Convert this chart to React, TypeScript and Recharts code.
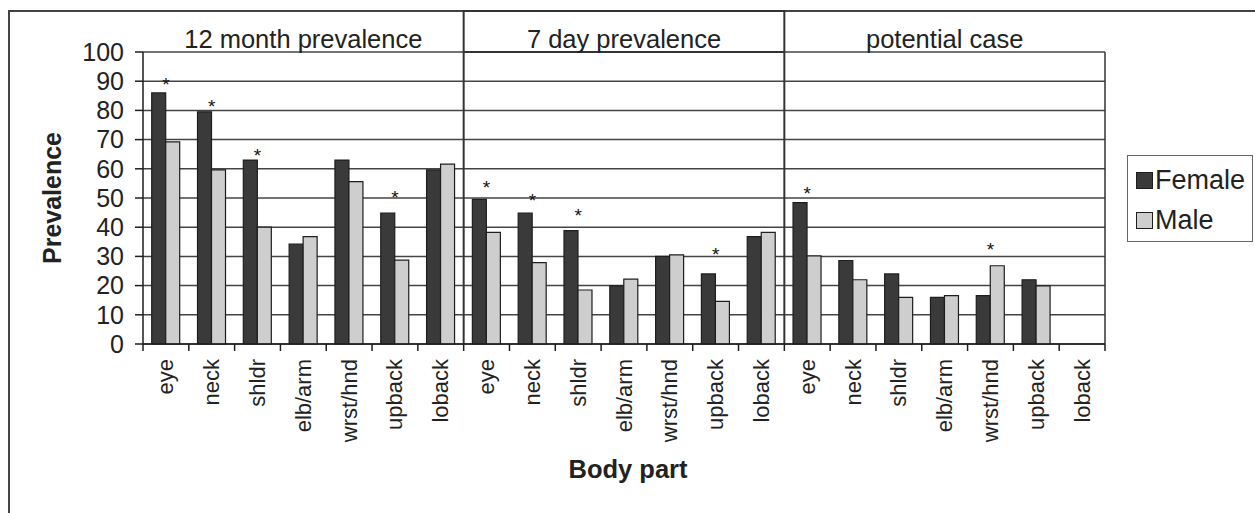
import React from "react";
import {
  ComposedChart,
  Bar,
  Scatter,
  XAxis,
  YAxis,
  CartesianGrid,
  ReferenceLine,
  ReferenceArea,
  Legend,
} from "recharts";

const bodyParts = ["eye", "neck", "shldr", "elb/arm", "wrst/hnd", "upback", "loback"];
const sections = ["12 month prevalence", "7 day prevalence", "potential case"];

const female12m = [86, 79.5, 63, 34.2, 63, 44.8, 59.6];
const male12m = [69.2, 59.6, 40, 36.8, 55.6, 28.7, 61.6];
const sig12m = [90.7, 83, 66.4, null, null, 51.8, null];

const female7d = [49.5, 44.8, 38.8, 19.9, 30, 24, 36.8];
const male7d = [38.2, 27.9, 18.5, 22.2, 30.5, 14.6, 38.2];
const sig7d = [55.2, 50.7, 45.6, null, null, 32.4, null];

const femalePc = [48.4, 28.6, 24, 16, 16.6, 22, null];
const malePc = [30.2, 22, 16, 16.6, 26.8, 19.9, null];
const sigPc = [53.1, null, null, null, 34.1, null, null];

const yTicks = [0, 10, 20, 30, 40, 50, 60, 70, 80, 90, 100];

const FONT = "'Liberation Sans', Arial, sans-serif";
const TEXT = "#222";
const FEMALE_FILL = "#3a3a3a";
const MALE_FILL = "#cecece";
const EDGE = "#1e1e1e";

const W = 1255;
const H = 513;
const LEGEND_W = 126;
const LEGEND_H = 87;
const PLOT_RIGHT_GAP = 150;
// Recharts reserves the legend width on the right, so subtract it from the margin
const MARGIN = { top: 52, right: PLOT_RIGHT_GAP - LEGEND_W, bottom: 29, left: 8 };
const Y_AXIS_W = 135;
const X_AXIS_H = 140;
const PLOT_W = W - MARGIN.left - Y_AXIS_W - PLOT_RIGHT_GAP;

const femaleAll = [...female12m, ...female7d, ...femalePc];
const maleAll = [...male12m, ...male7d, ...malePc];
const sigAll = [...sig12m, ...sig7d, ...sigPc];
const namesAll = [...bodyParts, ...bodyParts, ...bodyParts];
const BAND = PLOT_W / namesAll.length;

const data = namesAll.map((name, i) => ({
  id: i,
  name,
  Female: femaleAll[i],
  Male: maleAll[i],
  sig: sigAll[i],
}));

const XTick = (props: any) => {
  const { x, y, payload } = props;
  const idx = payload.index;
  const name = namesAll[payload.value] ?? "";
  const left = x - BAND / 2;
  return (
    <g>
      <line x1={left} y1={y} x2={left} y2={y + 7} stroke={EDGE} strokeWidth={1.5} />
      {idx === namesAll.length - 1 && (
        <line x1={x + BAND / 2} y1={y} x2={x + BAND / 2} y2={y + 7} stroke={EDGE} strokeWidth={1.5} />
      )}
      <text
        transform={`translate(${x}, ${y + 15}) rotate(-90)`}
        textAnchor="end"
        dominantBaseline="central"
        fontSize={22}
        fontFamily={FONT}
        fill={TEXT}
      >
        {name}
      </text>
    </g>
  );
};

const Asterisk = (props: any) => {
  const { cx, cy, payload } = props;
  if (payload == null || payload.sig == null || !Number.isFinite(cy)) return <g />;
  return (
    <text
      x={cx}
      y={cy + 5}
      textAnchor="middle"
      dominantBaseline="central"
      fontSize={19}
      fontFamily={FONT}
      fill="#111"
    >
      *
    </text>
  );
};

const TitleLabel = (text: string) => (props: any) => {
  const vb = props.viewBox;
  return (
    <text
      x={vb.x + vb.width / 2}
      y={vb.y + vb.height - 4}
      textAnchor="middle"
      fontSize={25.5}
      fontFamily={FONT}
      fill={TEXT}
    >
      {text}
    </text>
  );
};

const YLabel = (props: any) => {
  const vb = props.viewBox;
  const cx = vb.x + 44;
  const cy = vb.y + vb.height / 2;
  return (
    <text
      x={cx}
      y={cy}
      transform={`rotate(-90, ${cx}, ${cy})`}
      textAnchor="middle"
      dominantBaseline="central"
      fontSize={25}
      fontWeight="bold"
      fontFamily={FONT}
      fill={TEXT}
    >
      Prevalence
    </text>
  );
};

const XLabel = (props: any) => {
  const vb = props.viewBox;
  return (
    <text
      x={vb.x + vb.width / 2 + 4}
      y={vb.y + 134}
      textAnchor="middle"
      fontSize={25.5}
      fontWeight="bold"
      fontFamily={FONT}
      fill={TEXT}
    >
      Body part
    </text>
  );
};

const LegendBox = (props: any) => {
  const items = (props.payload || []).filter((p: any) => p.type !== "none");
  return (
    <div
      style={{
        boxSizing: "border-box",
        width: LEGEND_W,
        height: LEGEND_H,
        border: "1.5px solid #666",
        background: "#fff",
        paddingTop: 4,
        paddingLeft: 8,
        fontFamily: FONT,
      }}
    >
      {items.map((it: any) => (
        <div
          key={it.value}
          style={{ display: "flex", alignItems: "center", height: 40 }}
        >
          <span
            style={{
              display: "inline-block",
              boxSizing: "border-box",
              width: 17,
              height: 17,
              background: it.color,
              border: `1.5px solid ${EDGE}`,
              marginRight: 2,
            }}
          />
          <span style={{ fontSize: 27, color: TEXT, lineHeight: "27px" }}>{it.value}</span>
        </div>
      ))}
    </div>
  );
};

export default function App() {
  return (
    <div
      style={{
        position: "absolute",
        left: 0,
        top: 0,
        width: W,
        height: H,
        overflow: "hidden",
        background: "#fff",
      }}
    >
      <div
        style={{
          position: "absolute",
          left: 8,
          top: 10,
          width: W + 20,
          height: H + 20,
          borderLeft: "2px solid #444",
          borderTop: "2px solid #444",
        }}
      />
      <div style={{ position: "absolute", left: 0, top: 0 }}>
        <ComposedChart
          width={W}
          height={H}
          data={data}
          margin={MARGIN}
          barCategoryGap="19%"
          barGap={0}
        >
          <CartesianGrid horizontal vertical={false} stroke="#444" strokeWidth={1.5} />
          <XAxis
            dataKey="id"
            type="category"
            interval={0}
            height={X_AXIS_H}
            tickSize={0}
            tickMargin={0}
            tickLine={false}
            axisLine={{ stroke: EDGE, strokeWidth: 1.5 }}
            tick={<XTick />}
            label={<XLabel />}
          />
          <YAxis
            domain={[0, 100]}
            ticks={yTicks}
            interval={0}
            width={Y_AXIS_W}
            tickSize={8}
            tickMargin={11}
            axisLine={{ stroke: EDGE, strokeWidth: 1.5 }}
            tickLine={{ stroke: EDGE, strokeWidth: 1.5 }}
            tick={{ fontSize: 25, fontFamily: FONT, fill: TEXT }}
            label={<YLabel />}
          />
          <ReferenceArea
            x1={0}
            x2={6}
            y1={100}
            y2={114}
            ifOverflow="visible"
            fill="none"
            stroke="none"
            label={TitleLabel(sections[0])}
          />
          <ReferenceArea
            x1={7}
            x2={13}
            y1={100}
            y2={114}
            ifOverflow="visible"
            fill="none"
            stroke="#333"
            strokeWidth={2}
            label={TitleLabel(sections[1])}
          />
          <ReferenceArea
            x1={14}
            x2={20}
            y1={100}
            y2={114}
            ifOverflow="visible"
            fill="none"
            stroke="none"
            label={TitleLabel(sections[2])}
          />
          <ReferenceLine x={7} position="start" stroke="#333" strokeWidth={2} />
          <ReferenceLine x={14} position="start" stroke="#333" strokeWidth={2} />
          <ReferenceLine x={20} position="end" stroke="#333" strokeWidth={1.5} />
          <Bar
            dataKey="Female"
            fill={FEMALE_FILL}
            stroke={EDGE}
            strokeWidth={1.2}
            isAnimationActive={false}
          />
          <Bar
            dataKey="Male"
            fill={MALE_FILL}
            stroke={EDGE}
            strokeWidth={1.2}
            isAnimationActive={false}
          />
          <Scatter
            dataKey="sig"
            shape={<Asterisk />}
            legendType="none"
            isAnimationActive={false}
          />
          <Legend
            layout="horizontal"
            verticalAlign="middle"
            align="right"
            content={<LegendBox />}
            wrapperStyle={{ left: 1127, top: 155, width: LEGEND_W, height: LEGEND_H }}
          />
        </ComposedChart>
      </div>
    </div>
  );
}
